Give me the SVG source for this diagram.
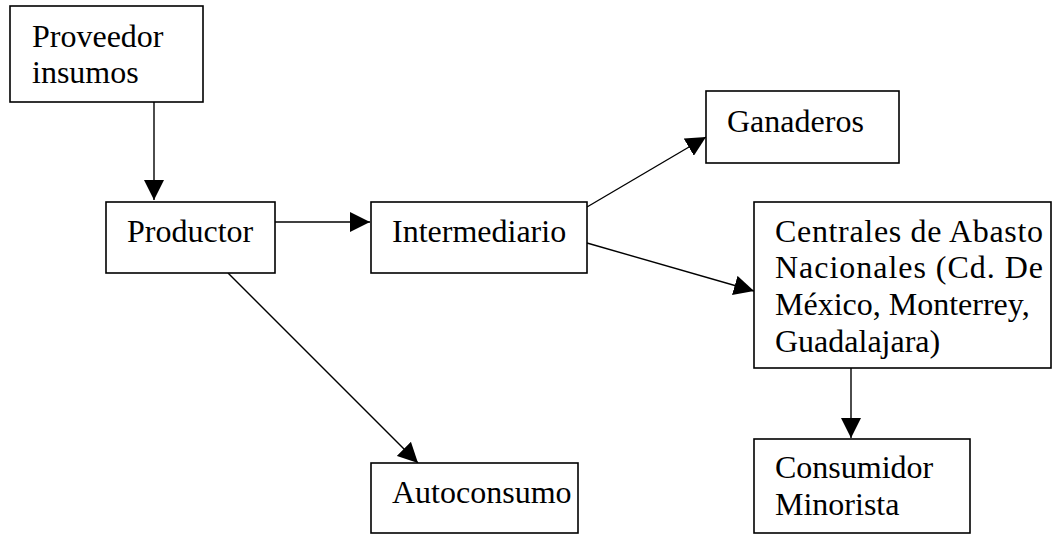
<svg xmlns="http://www.w3.org/2000/svg" width="1053" height="535" viewBox="0 0 1053 535">
  <style>
    .box { fill: #ffffff; stroke: #000000; stroke-width: 1.6; }
    .lbl { font-family: "Liberation Serif", "Times New Roman", serif; font-size: 32px; fill: #000000; }
    .edge { fill: none; stroke: #000000; stroke-width: 1.4; marker-end: url(#head); }
  </style>
  <defs>
    <marker id="head" viewBox="0 0 20 20" refX="20" refY="10" markerWidth="20" markerHeight="20" markerUnits="userSpaceOnUse" orient="auto">
      <path d="M0,0 L20,10 L0,20 z" fill="#000000"/>
    </marker>
  </defs>
  <rect width="1053" height="535" fill="#ffffff"/>

  <g id="connectors">
    <line class="edge" x1="154" y1="102" x2="154" y2="200"/>
    <line class="edge" x1="275" y1="222" x2="370" y2="222"/>
    <line class="edge" x1="587" y1="207" x2="706" y2="137"/>
    <line class="edge" x1="587" y1="243" x2="754" y2="291"/>
    <line class="edge" x1="851" y1="368" x2="851" y2="438"/>
    <line class="edge" x1="228" y1="273" x2="418" y2="463"/>
  </g>

  <g id="proveedor">
    <rect class="box" x="10" y="6" width="193" height="96"/>
    <text class="lbl" x="32" y="47">Proveedor</text>
    <text class="lbl" x="32" y="83">insumos</text>
  </g>

  <g id="productor">
    <rect class="box" x="106" y="202" width="169" height="71"/>
    <text class="lbl" x="127" y="242">Productor</text>
  </g>

  <g id="intermediario">
    <rect class="box" x="371" y="202" width="216" height="71"/>
    <text class="lbl" x="392" y="242">Intermediario</text>
  </g>

  <g id="ganaderos">
    <rect class="box" x="706" y="91" width="193" height="72"/>
    <text class="lbl" x="727" y="132">Ganaderos</text>
  </g>

  <g id="centrales">
    <rect class="box" x="754" y="202" width="297" height="166"/>
    <text class="lbl" x="775" y="242" textLength="268" lengthAdjust="spacing">Centrales de Abasto</text>
    <text class="lbl" x="775" y="278" textLength="268" lengthAdjust="spacing">Nacionales (Cd. De</text>
    <text class="lbl" x="775" y="315">México, Monterrey,</text>
    <text class="lbl" x="775" y="352">Guadalajara)</text>
  </g>

  <g id="consumidor">
    <rect class="box" x="754" y="439" width="216" height="94"/>
    <text class="lbl" x="775" y="478">Consumidor</text>
    <text class="lbl" x="775" y="515">Minorista</text>
  </g>

  <g id="autoconsumo">
    <rect class="box" x="371" y="463" width="207" height="70"/>
    <text class="lbl" x="392" y="503">Autoconsumo</text>
  </g>
</svg>
